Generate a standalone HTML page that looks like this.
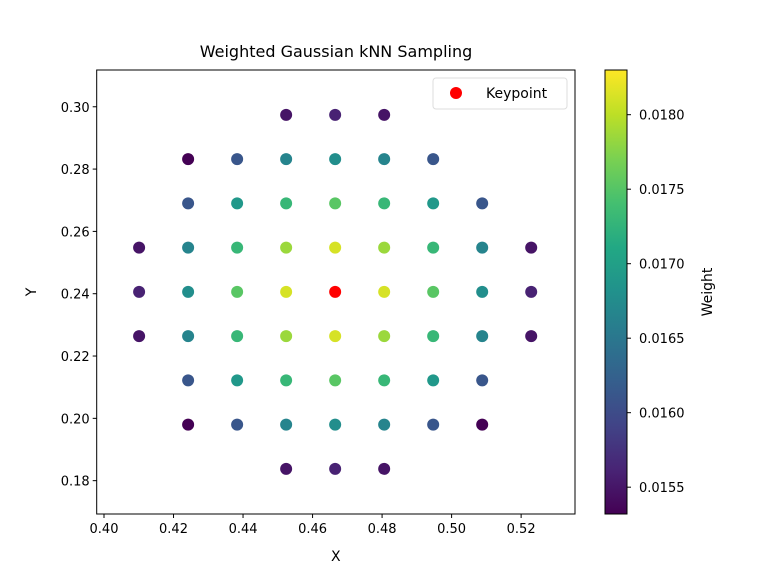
<!DOCTYPE html>
<html><head><meta charset="utf-8"><style>
body{margin:0;background:#fff;}
svg text{font-family:"DejaVu Sans","Liberation Sans",sans-serif;fill:#000;}
</style></head><body>
<svg id="chart" width="771" height="578" xmlns="http://www.w3.org/2000/svg">
<defs><linearGradient id="vir" x1="0" y1="1" x2="0" y2="0"></linearGradient></defs>
<rect width="771" height="578" fill="#fff"/>
<text x="336" y="57" font-size="16" text-anchor="middle">Weighted Gaussian kNN Sampling</text>
<g id="plot"></g>
</svg>
<script>
const sampleX = [0.4524,0.4665,0.4806,
 0.4242,0.4383,0.4524,0.4665,0.4806,0.4947,
 0.4242,0.4383,0.4524,0.4665,0.4806,0.4947,0.5088,
 0.4101,0.4242,0.4383,0.4524,0.4665,0.4806,0.4947,0.5088,0.5229,
 0.4101,0.4242,0.4383,0.4524,0.4806,0.4947,0.5088,0.5229,
 0.4101,0.4242,0.4383,0.4524,0.4665,0.4806,0.4947,0.5088,0.5229,
 0.4242,0.4383,0.4524,0.4665,0.4806,0.4947,0.5088,
 0.4242,0.4383,0.4524,0.4665,0.4806,0.4947,0.5088,
 0.4524,0.4665,0.4806];
const sampleY = [0.2974,0.2974,0.2974,
 0.2832,0.2832,0.2832,0.2832,0.2832,0.2832,
 0.2690,0.2690,0.2690,0.2690,0.2690,0.2690,0.2690,
 0.2548,0.2548,0.2548,0.2548,0.2548,0.2548,0.2548,0.2548,0.2548,
 0.2406,0.2406,0.2406,0.2406,0.2406,0.2406,0.2406,0.2406,
 0.2264,0.2264,0.2264,0.2264,0.2264,0.2264,0.2264,0.2264,0.2264,
 0.2122,0.2122,0.2122,0.2122,0.2122,0.2122,0.2122,
 0.1980,0.1980,0.1980,0.1980,0.1980,0.1980,0.1980,
 0.1838,0.1838,0.1838];
const sampleW = [0.01548,0.01560,0.01548,
 0.01532,0.01612,0.01665,0.01678,0.01665,0.01612,
 0.01612,0.01690,0.01730,0.01752,0.01730,0.01690,0.01612,
 0.01548,0.01665,0.01730,0.01785,0.01812,0.01785,0.01730,0.01665,0.01548,
 0.01560,0.01678,0.01752,0.01812,0.01812,0.01752,0.01678,0.01560,
 0.01548,0.01665,0.01730,0.01785,0.01812,0.01785,0.01730,0.01665,0.01548,
 0.01612,0.01690,0.01730,0.01752,0.01730,0.01690,0.01612,
 0.01532,0.01612,0.01665,0.01678,0.01665,0.01612,0.01532,
 0.01548,0.01560,0.01548];
const keypoint = [0.4665, 0.2406];
const xTicks = [0.40,0.42,0.44,0.46,0.48,0.50,0.52];
const yTicks = [0.18,0.20,0.22,0.24,0.26,0.28,0.30];
const cTicks = [0.0155,0.0160,0.0165,0.0170,0.0175,0.0180];

const L=96.7,R=575,T=70,B=514;
const xMin=0.3979,xMax=0.5355,yMin=0.1693,yMax=0.3118,cMin=0.01532,cMax=0.01830;
const sx=v=>L+(v-xMin)/(xMax-xMin)*(R-L);
const sy=v=>B-(v-yMin)/(yMax-yMin)*(B-T);
const sc=v=>B-(v-cMin)/(cMax-cMin)*(B-T);
const vir=[[68,1,84],[72,36,117],[65,68,135],[53,95,141],[42,120,142],[33,145,140],[34,168,132],[68,191,112],[122,209,81],[189,223,38],[253,231,37]];
function viridis(t){t=Math.max(0,Math.min(1,t));const p=t*(vir.length-1),i=Math.min(vir.length-2,Math.floor(p)),f=p-i;
 const c=vir[i].map((a,k)=>Math.round(a+(vir[i+1][k]-a)*f));return `rgb(${c[0]},${c[1]},${c[2]})`;}
const NS='http://www.w3.org/2000/svg';
const g=document.getElementById('plot');
function mk(tag,at,parent){const e=document.createElementNS(NS,tag);for(const k in at)e.setAttribute(k,at[k]);(parent||g).appendChild(e);return e;}

const frame=mk('rect',{x:L,y:T,width:R-L,height:B-T,fill:'none',stroke:'#000','stroke-width':1});


xTicks.forEach(v=>{const x=sx(v);
 const t=mk('line',{x1:x,x2:x,y1:B,y2:B+4,stroke:'#000'});
 
 
 const l=mk('text',{x:x,y:B+19,'font-size':13,'text-anchor':'middle'});l.textContent=v.toFixed(2);
 
 });
yTicks.forEach(v=>{const y=sy(v);
 const t=mk('line',{x1:L-4,x2:L,y1:y,y2:y,stroke:'#000'});
 
 
 const l=mk('text',{x:L-7,y:y+5,'font-size':13,'text-anchor':'end'});l.textContent=v.toFixed(2);
 
 });
const xl=mk('text',{x:(L+R)/2,y:561,'font-size':14,'text-anchor':'middle'});xl.textContent='X';


const yl=mk('text',{x:36,y:292,'font-size':14,'text-anchor':'middle',transform:'rotate(-90 36 292)'});yl.textContent='Y';



sampleX.forEach((v,i)=>{const c=mk('circle',{cx:sx(v),cy:sy(sampleY[i]),r:6,fill:viridis((sampleW[i]-cMin)/(cMax-cMin))});
 
 });
const kp=mk('circle',{cx:sx(keypoint[0]),cy:sy(keypoint[1]),r:6,fill:'#ff0000'});



const lg=mk('g',{});


mk('rect',{x:433,y:78,width:134,height:31,rx:3,fill:'#fff',stroke:'#ddd'},lg);
mk('circle',{cx:456,cy:93,r:6,fill:'#ff0000'},lg);
const lt=mk('text',{x:486,y:98,'font-size':14},lg);lt.textContent='Keypoint';



const grad=document.getElementById('vir');
vir.forEach((c,i)=>{const s=document.createElementNS(NS,'stop');s.setAttribute('offset',(i/(vir.length-1)));s.setAttribute('stop-color',`rgb(${c})`);grad.appendChild(s);});
const cb=mk('rect',{x:605,y:T,width:22,height:B-T,fill:'url(#vir)',stroke:'#000'});


cTicks.forEach(v=>{const y=sc(v);
 const t=mk('line',{x1:627,x2:631,y1:y,y2:y,stroke:'#000'});
 
 
 const l=mk('text',{x:639,y:y+5,'font-size':13});l.textContent=v.toFixed(4);
 
 });
const cl=mk('text',{x:712,y:292,'font-size':14,'text-anchor':'middle',transform:'rotate(-90 712 292)'});cl.textContent='Weight';


</script>
</body></html>
